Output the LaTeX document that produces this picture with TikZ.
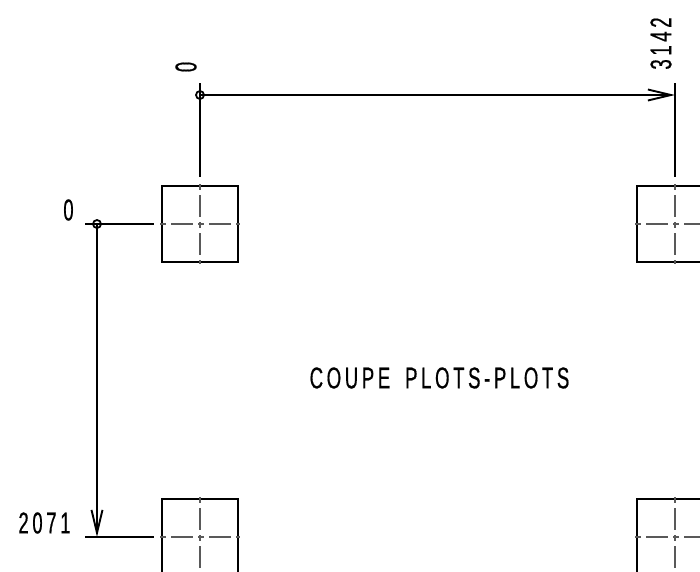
\documentclass[tikz,border=0pt]{standalone}
\usepackage{fontspec}
\setmainfont{Liberation Sans}[FakeStretch=0.62,LetterSpace=12,FakeBold=0.5,WordSpace=1.7]
\usetikzlibrary{arrows.meta}
\tikzset{
  plot/.style={draw=black,line width=1.9pt,minimum size=76pt,inner sep=0pt,outer sep=0pt},
  extline/.style={draw=black,line width=2pt},
  dimline/.style={draw=black,line width=2pt},
  dimarrow/.style={dimline,-{Straight Barb[length=23pt,width=11pt,line width=1.9pt]}},
  axisline/.style={draw=black!65,line width=1.1pt,dash pattern=on 6pt off 5pt on 22pt off 5pt},
  origin/.style={circle,draw=black,line width=1.8pt,minimum size=8pt,inner sep=0pt},
  lbl/.style={inner sep=0pt,outer sep=0pt,font=\fontsize{30pt}{30pt}\selectfont},
}
\newcommand{\plotaxes}[1]{%
  \draw[axisline] ([xshift=-40pt]#1.center) -- ([xshift=40pt]#1.center);
  \draw[axisline] ([yshift=40pt]#1.center) -- ([yshift=-40pt]#1.center);
}
\begin{document}
\begin{tikzpicture}[x=1pt,y=-1pt]
\path[use as bounding box] (0,0) rectangle (700,571);
\clip (0,0) rectangle (700,571);
\node[plot] (tl) at (200,224) {};
\node[plot] (tr) at (675,224) {};
\node[plot] (bl) at (200,537) {};
\node[plot] (br) at (675,537) {};
\plotaxes{tl}\plotaxes{tr}\plotaxes{bl}\plotaxes{br}
% extension line ends
\coordinate (e1a) at (200,83);  \coordinate (e1b) at (200,177);
\coordinate (e2a) at (675,83);  \coordinate (e2b) at (675,177);
\coordinate (e3a) at (85,224);  \coordinate (e3b) at (154,224);
\coordinate (e4a) at (85,537);  \coordinate (e4b) at (154,537);
\draw[extline] (e1a) -- (e1b);
\draw[extline] (e2a) -- (e2b);
\draw[extline] (e3a) -- (e3b);
\draw[extline] (e4a) -- (e4b);
\node[origin] (o1) at (200,95) {};
\node[origin] (o2) at (97,224) {};
\coordinate (t1) at (675,95);
\coordinate (t2) at (97,537);
\draw[dimarrow] (o1.center) -- (t1);
\draw[dimarrow] (o2.center) -- (t2);
\node[lbl,anchor=center,rotate=90] (z1) at (186,67) {0};
\node[lbl,anchor=center] (z2) at (68.500,210) {0};
\node[lbl,anchor=center,rotate=90] (n1) at (661,43.500) {3142};
\node[lbl,anchor=center] (n2) at (44.500,523) {2071};
\node[lbl,anchor=center] (title) at (439.500,378) {COUPE PLOTS-PLOTS};
\end{tikzpicture}
\end{document}
